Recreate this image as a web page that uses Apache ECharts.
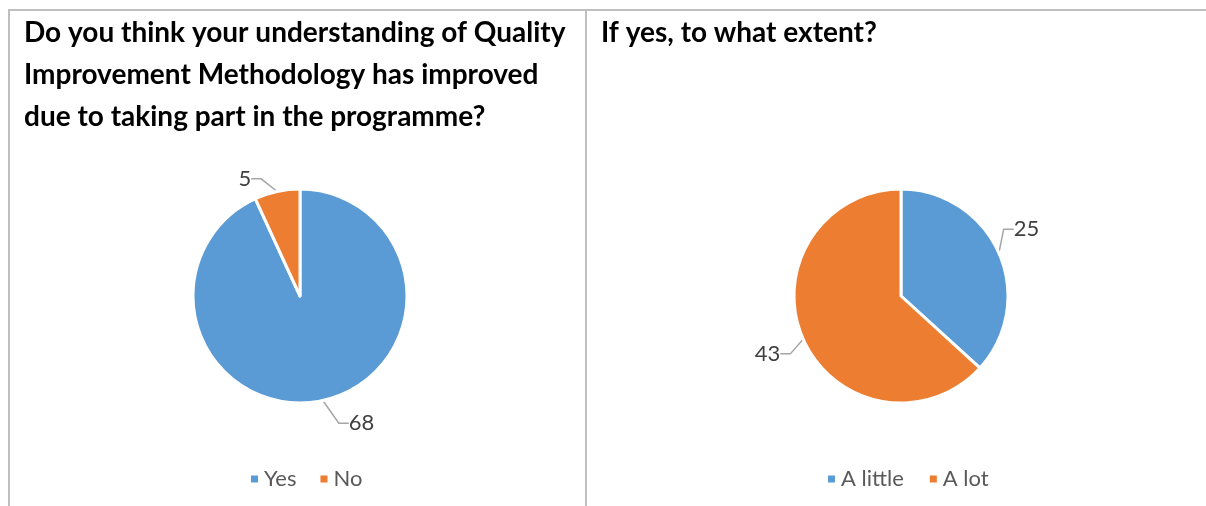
<!DOCTYPE html>
<html>
<head>
<meta charset="utf-8">
<style>
  html, body { margin: 0; padding: 0; background: #fff; }
  #chart { width: 1206px; height: 506px; }
</style>
<script src="https://cdn.jsdelivr.net/npm/echarts@6/dist/echarts.min.js"></script>
</head>
<body>
<div id="chart"></div>
<script>
// Survey results: two questions, each drawn as a pie
const improvedCategories = ['Yes', 'No'];
const improvedValues = [68, 5];
const extentCategories = ['A little', 'A lot'];
const extentValues = [25, 43];
const titles = [
  'Do you think your understanding of Quality\nImprovement Methodology has improved\ndue to taking part in the programme?',
  'If yes, to what extent?'
];
const colors = ['#5B9BD5', '#ED7D31'];

const FONT = 'Lato, "Open Sans", sans-serif';

// per-label nudges [seriesIndex][dataIndex]; label lines are re-routed afterwards
const labelNudge = [
  [{ dx: 0, dy: 5 }, { dx: -8, dy: -3 }],
  [{ dx: -21, dy: -22 }, { dx: 5, dy: 5 }]
];

function toData(cats, vals) {
  return cats.map((c, i) => ({ name: c, value: vals[i] }));
}

function pieSeries(cats, vals, center) {
  return {
    type: 'pie',
    center: center,
    radius: 107,
    startAngle: 90,
    clockwise: true,
    avoidLabelOverlap: false,
    itemStyle: { borderColor: '#fff', borderWidth: 3 },
    label: {
      show: true,
      position: 'outside',
      formatter: '{c}',
      fontFamily: FONT,
      fontSize: 22,
      color: '#404040',
      padding: 4
    },
    labelLine: {
      show: true,
      length: 14,
      length2: 10,
      lineStyle: { color: '#A6A6A6', width: 1.5 }
    },
    labelLayout: function (p) {
      const n = labelNudge[p.seriesIndex][p.dataIndex];
      return {
        x: p.labelRect.x + n.dx,
        y: p.labelRect.y + n.dy,
        align: 'left',
        verticalAlign: 'top'
      };
    },
    emphasis: { disabled: true },
    data: toData(cats, vals)
  };
}

const borderStyle = { stroke: '#BFBFBF', lineWidth: 2 };
const legendText = { fontFamily: FONT, fontSize: 22, color: '#595959' };
const titleText = { fontFamily: FONT, fontSize: 28, fontWeight: 'bold', color: '#000', lineHeight: 42 };

const chart = echarts.init(document.getElementById('chart'));
chart.setOption({
  animation: false,
  color: colors,
  title: [
    { text: titles[0], left: 19, top: 7, textStyle: titleText },
    { text: titles[1], left: 596, top: 7, textStyle: titleText }
  ],
  legend: [
    {
      data: improvedCategories, left: 244, top: 463,
      itemWidth: 9, itemHeight: 9, itemGap: 22, icon: 'rect',
      textStyle: legendText
    },
    {
      data: extentCategories, left: 821, top: 463,
      itemWidth: 9, itemHeight: 9, itemGap: 24, icon: 'rect',
      textStyle: legendText
    }
  ],
  graphic: [
    { type: 'line', shape: { x1: 8, y1: 10, x2: 1206, y2: 10 }, style: borderStyle },
    { type: 'line', shape: { x1: 9, y1: 10, x2: 9, y2: 506 }, style: borderStyle },
    { type: 'line', shape: { x1: 586, y1: 10, x2: 586, y2: 506 }, style: borderStyle }
  ],
  series: [
    pieSeries(improvedCategories, improvedValues, [300, 296]),
    pieSeries(extentCategories, extentValues, [901, 296])
  ]
});
</script>
</body>
</html>
